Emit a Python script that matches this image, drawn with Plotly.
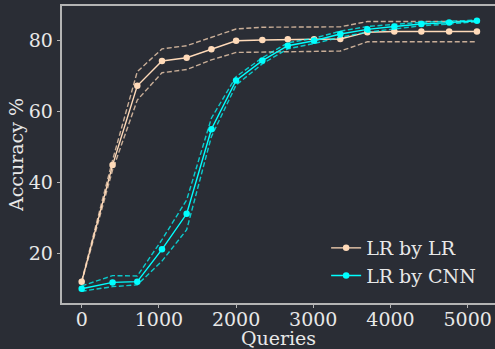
import plotly.graph_objects as go

# Number of labelled queries at each step
queries = [0, 400, 720, 1040, 1360, 1680, 2000, 2340, 2670, 3010, 3350, 3700, 4050, 4400, 4760, 5120]

# LR model, samples chosen by LR
lr_mean = [12.0, 44.8, 67.1, 74.1, 75.0, 77.4, 79.8, 80.0, 80.2, 80.2, 80.3, 82.2, 82.4, 82.4, 82.4, 82.4]
lr_upper = [12.2, 46.2, 71.1, 77.5, 78.4, 80.8, 83.1, 83.6, 83.7, 83.7, 83.7, 85.2, 85.2, 85.2, 85.2, 85.2]
lr_lower = [11.8, 43.4, 63.1, 70.8, 71.7, 74.4, 76.5, 76.6, 76.7, 76.8, 76.9, 79.5, 79.5, 79.5, 79.5, 79.5]

# LR model, samples chosen by CNN
cnn_mean = [10.0, 11.8, 12.0, 21.1, 31.1, 54.9, 68.6, 74.2, 78.4, 79.8, 81.7, 83.0, 83.8, 84.5, 84.9, 85.4]
cnn_upper = [10.8, 13.7, 13.6, 23.8, 35.0, 58.0, 69.7, 75.0, 79.2, 80.5, 82.5, 83.8, 84.4, 85.0, 85.3, 85.6]
cnn_lower = [9.3, 10.6, 11.1, 17.8, 26.6, 52.8, 67.3, 73.3, 77.5, 79.0, 80.8, 82.2, 83.1, 84.0, 84.5, 85.2]

x_ticks = [0, 1000, 2000, 3000, 4000, 5000]
y_ticks = [20, 40, 60, 80]

BG = "#2a2d35"
TEXT = "#e8e8e8"
SPINE = "#b4b4b4"
PEACH = "#ffdab9"
CYAN = "#00ffff"
DASH = "5px,2.5px"

fig = go.Figure()


def add_series(name, mean, upper, lower, color):
    for bound in (upper, lower):
        fig.add_trace(go.Scatter(
            x=queries, y=bound, mode="lines", showlegend=False, hoverinfo="skip",
            line=dict(color=color, width=1.4, dash=DASH), opacity=0.75,
        ))
    fig.add_trace(go.Scatter(
        x=queries, y=mean, mode="lines+markers", name=name,
        line=dict(color=color, width=1.4),
        marker=dict(color=color, size=6.5),
    ))


add_series("LR by LR", lr_mean, lr_upper, lr_lower, PEACH)
add_series("LR by CNN", cnn_mean, cnn_upper, cnn_lower, CYAN)

font = dict(family="DejaVu Serif", size=19, color=TEXT)

fig.update_layout(
    width=495, height=349,
    margin=dict(l=62, r=0, t=6, b=46),
    paper_bgcolor=BG, plot_bgcolor=BG,
    font=font,
    showlegend=True,
    legend=dict(
        x=0.61, y=0.138, xanchor="left", yanchor="middle",
        bgcolor="rgba(0,0,0,0)", font=font,
        tracegroupgap=0,
    ),
    xaxis=dict(
        range=[-255, 5354], tickvals=x_ticks, showgrid=False, zeroline=False,
        showline=True, linecolor=SPINE, linewidth=1.5, mirror=True,
        ticks="outside", ticklen=3.5, tickcolor=SPINE, tickwidth=1,
        ticklabelstandoff=-5,
        title=dict(text="Queries", standoff=5, font=font),
    ),
    yaxis=dict(
        range=[6.0, 89.57], tickvals=y_ticks, showgrid=False, zeroline=False,
        showline=True, linecolor=SPINE, linewidth=1.5,
        ticks="outside", ticklen=3.5, tickcolor=SPINE, tickwidth=1,
        title=dict(text="Accuracy %", standoff=0, font=font),
    ),
)

fig.write_html("out.html")
